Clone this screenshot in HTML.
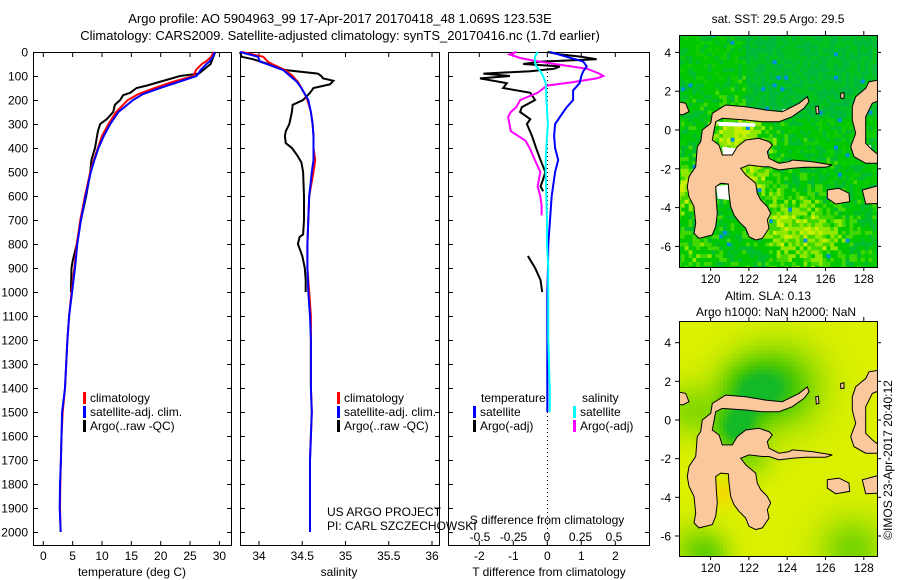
<!DOCTYPE html>
<html><head><meta charset="utf-8"><style>
html,body{margin:0;padding:0;background:#fff;}
svg{display:block;font-family:"Liberation Sans",sans-serif;}
</style></head><body>
<svg id="fig" width="900" height="580" viewBox="0 0 900 580" xmlns="http://www.w3.org/2000/svg">
<rect width="900" height="580" fill="#fff"/>
<text x="340" y="23" font-size="13" text-anchor="middle">Argo profile: AO 5904963_99 17-Apr-2017 20170418_48 1.069S 123.53E</text>
<text x="340" y="40" font-size="13" text-anchor="middle">Climatology: CARS2009. Satellite-adjusted climatology: synTS_20170416.nc (1.7d earlier)</text>
<g id="g"></g>
</svg>
<script>
// ---- data ----
const depthClim = [0,20,40,50,75,100,125,150,175,200,250,300,350,400,450,500,600,700,800,900,1000,1100,1200,1300,1400,1500,1600,1700,1800,1900,2000];
const tempClim  = [29.0,28.6,27.7,27.0,26.0,25.6,22.0,19.0,16.2,14.4,12.4,11.1,10.0,9.3,8.6,8.0,7.1,6.3,5.7,5.3,4.8,4.4,4.1,3.9,3.7,3.3,3.1,3.0,2.9,2.85,2.95];
const tempSat   = [29.2,28.9,28.3,27.8,26.8,26.1,23.0,19.9,17.0,15.3,12.8,11.4,10.3,9.4,8.7,8.1,7.2,6.4,5.8,5.4,4.9,4.4,4.1,3.9,3.7,3.2,3.1,3.0,2.85,2.8,2.96];
const salClim   = [33.8,34.05,34.10,34.15,34.30,34.39,34.45,34.49,34.53,34.56,34.60,34.62,34.63,34.63,34.65,34.63,34.58,34.57,34.56,34.56,34.58,34.60,34.60,34.60,34.60,34.61,34.60,34.59,34.59,34.59,34.59];
const salSat    = [33.78,33.99,34.01,34.09,34.28,34.36,34.44,34.49,34.53,34.57,34.60,34.62,34.63,34.63,34.63,34.61,34.58,34.57,34.56,34.56,34.57,34.59,34.60,34.60,34.60,34.61,34.60,34.59,34.59,34.59,34.59];
const depthArgoT = [0,30,50,90,100,140,150,170,180,200,220,250,280,300,330,400,450,500,600,700,800,870,900,1000];
const tempArgo   = [29.3,28.8,28.5,26.5,23.3,17.6,15.9,14.8,13.6,13.1,12.2,11.9,10.8,9.7,9.3,8.8,8.2,8.0,7.3,6.4,5.7,5.0,4.8,4.7];
const depthArgoS = [0,20,30,60,75,90,100,110,120,135,150,170,200,220,250,300,330,350,380,400,430,460,500,600,700,760,770,800,850,900,950,1000];
const salArgo    = [33.78,33.8,33.93,34.2,34.3,34.68,34.72,34.74,34.86,34.82,34.63,34.59,34.51,34.39,34.38,34.35,34.31,34.30,34.31,34.38,34.44,34.49,34.51,34.52,34.52,34.51,34.47,34.45,34.50,34.53,34.54,34.54];
const depthDiffT = [0,10,20,30,40,50,60,70,80,90,100,110,130,150,170,200,230,250,280,300,350,400,450,500,530,560,580];
const diffTArgo  = [0.0,0.37,1.0,1.45,-0.2,-0.71,0.37,0.2,-0.5,-1.88,-1.1,-1.98,-1.19,-1.3,-0.5,-0.36,-0.75,-0.8,-0.5,-0.6,-0.45,-0.33,-0.2,-0.06,-0.12,-0.2,-0.12];
const depthDiffT2 = [850,900,950,1000];
const diffTArgo2  = [-0.57,-0.36,-0.2,-0.15];
const depthDiffSat = [0,20,40,60,80,100,130,160,200,230,250,300,350,400,450,500,600,700,800,900,1000,1200,1400,1500];
const diffTSat     = [0.08,0.57,1.06,1.16,1.06,1.0,0.95,0.76,0.76,0.57,0.47,0.23,0.2,0.23,0.32,0.23,0.13,0.08,0.03,0.02,0.0,0.0,0.0,0.0];
const diffSSat     = [-0.07,-0.09,-0.09,-0.08,-0.05,-0.03,-0.01,-0.005,-0.005,0.0,0.0,0.007,0.0,-0.005,-0.01,-0.01,-0.005,0.0,0.0,0.01,0.01,0.01,0.02,0.02];
const depthDiffS = [0,10,25,35,45,55,70,90,100,110,125,140,170,200,230,250,270,300,330,370,400,450,500,560,600,640,680];
const diffSArgo  = [-0.23,-0.28,-0.2,-0.11,0.0,0.12,0.3,0.39,0.42,0.37,0.2,0.0,-0.07,-0.2,-0.23,-0.27,-0.29,-0.28,-0.27,-0.16,-0.13,-0.09,-0.05,-0.07,-0.05,-0.04,-0.04];
const depthTicks = [0,100,200,300,400,500,600,700,800,900,1000,1100,1200,1300,1400,1500,1600,1700,1800,1900,2000];
const tempTicks = [0,5,10,15,20,25,30];
const salTicks = [34,34.5,35,35.5,36];
const tdTicks = [-2,-1,0,1,2];
const sdTicks = [-0.5,-0.25,0,0.25,0.5];

// ---- axes ----
const TOP=52, BOT=545;
const yD = d => 52 + d*0.24;
const xT = t => 43.3 + t*5.87;
const xS = s => 259 + (s-34)*86.5;
const xdT = v => 547.3 + v*34;
const xdS = v => 547 + v*134;
const NS="http://www.w3.org/2000/svg";
const G=document.getElementById('g');
function el(tag, attrs, txt){const e=document.createElementNS(NS,tag);for(const k in attrs)e.setAttribute(k,attrs[k]);if(txt!==undefined)e.textContent=txt;G.appendChild(e);return e;}
function line(x1,y1,x2,y2,c,w){return el('line',{x1,y1,x2,y2,stroke:c||'#000','stroke-width':w||1});}
function poly(xs,ys,c,w){return el('polyline',{points:xs.map((x,i)=>x.toFixed(1)+','+ys[i].toFixed(1)).join(' '),fill:'none',stroke:c,'stroke-width':w||2,'stroke-linejoin':'miter'});}

const panels=[[33,231],[240,439],[448,649]];
panels.forEach((p,i)=>{
  const r=el('rect',{x:p[0]+0.5,y:TOP+0.5,width:p[1]-p[0],height:BOT-TOP,fill:'none',stroke:'#000','stroke-width':1});
  
  
  depthTicks.forEach(d=>{const y=yD(d)+0.5;line(p[0],y,p[0]+5,y);line(p[1]-4,y,p[1]+1,y);});
});
depthTicks.forEach(d=>{
  const t=el('text',{x:28,y:yD(d)+4.5,'font-size':12,'text-anchor':'end'},String(d));
  
  
});
tempTicks.forEach(v=>{const x=xT(v);line(x,TOP,x,TOP+5);line(x,BOT-4,x,BOT+1);
  const t=el('text',{x:x,y:560,'font-size':12,'text-anchor':'middle'},String(v));
  
  });
salTicks.forEach(v=>{const x=xS(v);line(x,TOP,x,TOP+5);line(x,BOT-4,x,BOT+1);
  const t=el('text',{x:x,y:560,'font-size':12,'text-anchor':'middle'},String(v));
  
  });
tdTicks.forEach(v=>{const x=xdT(v);line(x,TOP,x,TOP+5);line(x,BOT-4,x,BOT+1);
  const t=el('text',{x:x,y:560,'font-size':12,'text-anchor':'middle'},String(v));
  
  });
sdTicks.forEach(v=>{const x=xdS(v);
  const t=el('text',{x:x,y:541,'font-size':12,'text-anchor':'middle'},String(v));
  
  });
[[132,'temperature (deg C)','temperature-axis-title'],[339,'salinity','salinity-axis-title'],[549,'T difference from climatology','t-diff-axis-title']].forEach(a=>{
  const t=el('text',{x:a[0],y:576,'font-size':12,'text-anchor':'middle'},a[1]);
  
  });
{const t=el('text',{x:547,y:524,'font-size':12,'text-anchor':'middle'},'S difference from climatology');

}
{const l=el('line',{x1:547.5,y1:TOP,x2:547.5,y2:BOT,stroke:'#000','stroke-width':1,'stroke-dasharray':'1,3'});

}

// ---- series ----
function series(name,xs,ys,c,w){const p=poly(xs,ys,c,w);}
series('temp-argo',tempArgo.map(xT),depthArgoT.map(yD),'#000',2);
series('temp-climatology',tempClim.map(xT),depthClim.map(yD),'#f00',2);
series('temp-satellite-adj',tempSat.map(xT),depthClim.map(yD),'#00f',2);
series('sal-argo',salArgo.map(xS),depthArgoS.map(yD),'#000',2);
series('sal-climatology',salClim.map(xS),depthClim.map(yD),'#f00',2);
series('sal-satellite-adj',salSat.map(xS),depthClim.map(yD),'#00f',2);
series('tdiff-argo',diffTArgo.map(xdT),depthDiffT.map(yD),'#000',2);
series('tdiff-argo-deep',diffTArgo2.map(xdT),depthDiffT2.map(yD),'#000',2);
series('sdiff-argo',diffSArgo.map(xdS),depthDiffS.map(yD),'#f0f',2);
series('tdiff-satellite',diffTSat.map(xdT),depthDiffSat.map(yD),'#00f',2);
series('sdiff-satellite',diffSSat.map(xdS),depthDiffSat.map(yD),'#0ff',2);

// ---- legends ----
function leg(x,y,c,txt,name){const r=el('rect',{x:x,y:y-10,width:3,height:12,fill:c});
  const t=el('text',{x:x+7,y:y,'font-size':12},txt);}
leg(83,402,'#f00','climatology','legend-climatology');
leg(83,416,'#00f','satellite-adj. clim.','legend-satellite-adj');
leg(83,430,'#000','Argo(..raw -QC)','legend-argo');
leg(337,402,'#f00','climatology','legend-climatology-sal');
leg(337,416,'#00f','satellite-adj. clim.','legend-satellite-adj-sal');
leg(337,430,'#000','Argo(..raw -QC)','legend-argo-sal');
{const t=el('text',{x:481,y:402,'font-size':12},'temperature');}
{const t=el('text',{x:582,y:402,'font-size':12},'salinity');}
leg(473,416,'#00f','satellite','legend-t-satellite');
leg(473,430,'#000','Argo(-adj)','legend-t-argo');
leg(573,416,'#0ff','satellite','legend-s-satellite');
leg(573,430,'#f0f','Argo(-adj)','legend-s-argo');
{const t=el('text',{x:327,y:516,'font-size':12},'US ARGO PROJECT');}
{const t=el('text',{x:327,y:530,'font-size':12},'PI: CARL SZCZECHOWSKI');}

// ---- maps ----
const LON0=118.35, LON1=128.7, MX0=679, MX1=877;
const lonX = l => MX0 + (l-LON0)*19.15;
const zLon = zx => LON0 + zx/57.45;
const zLat = zy => (50 - zy/3)/19.4;
const landZ = [
 [[100,100],[140,75],[200,80],[260,90],[310,95],[360,70],[385,50],[390,65],[375,85],[340,110],[300,125],[250,125],[200,120],[130,115],[110,125],[100,180],[120,195],[130,225],[160,225],[175,200],[200,180],[240,175],[270,185],[280,195],[265,215],[270,235],[300,250],[330,245],[340,240],[400,245],[460,255],[440,262],[380,262],[340,265],[300,270],[270,260],[250,260],[210,255],[185,265],
  [200,285],[230,310],[235,340],[245,360],[265,380],[275,400],[265,420],[270,445],[250,475],[230,480],[210,470],
  [200,445],[180,425],[165,405],[155,380],[150,340],[148,312],[125,310],[110,320],
  [112,360],[115,400],[110,440],[100,465],[60,475],[45,460],[50,430],[45,380],[30,350],[25,320],[30,290],[50,260],[55,200],[65,185],[70,150],[95,130]],
 [[445,330],[480,325],[510,340],[512,365],[470,372],[445,355]],
 [[530,50],[560,25],[570,5],[600,0],[605,60],[580,70],[560,110],[560,190],[580,210],[605,230],[605,250],[560,250],[525,230],[515,200],[530,160],[520,120],[520,80]],
 [[550,330],[605,315],[605,370],[560,372]],
 [[-5,65],[20,70],[30,95],[10,105],[-5,100]],
 [[410,80],[418,78],[420,100],[412,102]],
 [[485,40],[495,38],[495,55],[485,55]]
];
const cloudZ = [
 [[112,125],[230,130],[228,140],[120,138]],
 [[130,200],[170,205],[172,228],[132,226]],
 [[112,318],[146,314],[150,360],[116,356]],
 [[530,200],[575,195],[580,225],[535,225]],
 [[310,88],[335,86],[334,96],[312,96]]
];
function hash(i,j){let h=(i*374761393+j*668265263)|0;h=(h^(h>>>13))*1274126177|0;return ((h^(h>>>16))>>>0)/4294967296;}
function blob(zx,zy,cx,cy,r){const dx=(zx-cx)/r,dy=(zy-cy)/r;return Math.exp(-(dx*dx+dy*dy));}
function drawMap(id,top,bot,latY,colorFn,clouds){
  const cid='clip'+id;
  const cp=el('clipPath',{id:cid});G.removeChild(cp);
  const cr=document.createElementNS(NS,'rect');cr.setAttribute('x',MX0);cr.setAttribute('y',top);cr.setAttribute('width',MX1-MX0);cr.setAttribute('height',bot-top);cp.appendChild(cr);G.appendChild(cp);
  const g=el('g',{'clip-path':'url(#'+cid+')'});
  
  
  const step=0.2;
  for(let lo=LON0-0.1, i=0; lo<LON1; lo+=step, i++){
    for(let la=5.4, j=0; la>-7.4; la-=step, j++){
      const r=document.createElementNS(NS,'rect');
      const x=lonX(lo), y=latY(la);
      const zx=(lo+step/2-LON0)*57.45, zy=(50-(la-step/2)*19.4)*3;
      r.setAttribute('x',x.toFixed(1));r.setAttribute('y',y.toFixed(1));
      r.setAttribute('width',(step*19.15+0.6).toFixed(1));r.setAttribute('height',(step*19.4+0.6).toFixed(1));
      r.setAttribute('fill',colorFn(zx,zy,i,j));g.appendChild(r);
    }
  }
  const toPts=pg=>pg.map(q=>lonX(zLon(q[0])).toFixed(1)+','+latY(zLat(q[1])).toFixed(1)).join(' ');
  if(clouds) cloudZ.forEach(pg=>{const p=document.createElementNS(NS,'polygon');p.setAttribute('points',toPts(pg));p.setAttribute('fill','#fff');g.appendChild(p);});
  landZ.forEach(pg=>{const p=document.createElementNS(NS,'polygon');
    p.setAttribute('points',toPts(pg));
    p.setAttribute('fill','#fac89b');p.setAttribute('stroke','#000');p.setAttribute('stroke-width','1');g.appendChild(p);});
  const fr=el('rect',{x:MX0+0.5,y:top+0.5,width:MX1-MX0,height:bot-top,fill:'none',stroke:'#000'});
  
  
  [4,2,0,-2,-4,-6].forEach(l=>{const y=latY(l);line(MX0-4,y,MX0,y);line(MX1,y,MX1+4,y);
    const t=el('text',{x:MX0-8,y:y+4.5,'font-size':12,'text-anchor':'end'},String(l));
    
    });
  [120,122,124,126,128].forEach(l=>{const x=lonX(l);line(x,top-4,x,top);line(x,bot,x,bot+4);
    const t=el('text',{x:x,y:bot+16,'font-size':12,'text-anchor':'middle'},String(l));
    
    });
}
drawMap('sst-map',35,267,l=>130-l*19.4,(zx,zy,i,j)=>{
  const h=hash(i,j), h2=hash(j+7,i+3);
  let y = 0.9*blob(zx,zy,180,170,90) + 0.7*blob(zx,zy,20,330,70) + 0.6*blob(zx,zy,400,470,120)
        + 0.4*blob(zx,zy,280,420,80) + 0.5*blob(zx,zy,230,290,60) + 0.3*blob(zx,zy,60,520,80);
  y += (h-0.5)*0.6;
  if(h2<0.01) return '#0090e0';
  if(zy<120 && zx>200) return h<0.5?'#00b93c':'#00c31e';
  if(y>0.75) return '#c8f000';
  if(y>0.5) return '#90e800';
  if(y>0.3) return '#40d800';
  return h<0.5?'#00c800':(h<0.8?'#00bd30':'#10cc00');
}, true);
drawMap('sla-map',321,556,l=>420-l*19.33,(zx,zy,i,j)=>{
  let g = 0.8*blob(zx,zy,300,50,120) + 0.6*blob(zx,zy,200,60,90) + 0.9*blob(zx,zy,170,180,70)
        + 0.5*blob(zx,zy,520,540,100) + 0.4*blob(zx,zy,30,120,80) + 0.4*blob(zx,zy,50,540,80)
        + 0.3*blob(zx,zy,220,270,60) + 0.3*blob(zx,zy,100,560,60);
  const o = 0.6*blob(zx,zy,130,370,40);
  const t=Math.max(0,Math.min(1,1-g));
  const r=Math.round(20+t*200+o*40), gg=Math.round(185+t*55-o*40);
  return 'rgb('+Math.min(255,r)+','+gg+','+(t<0.3?Math.round(40*(0.3-t)/0.3):0)+')';
}, false);
{const t=el('text',{x:778,y:23,'font-size':12,'text-anchor':'middle'},'sat. SST: 29.5 Argo: 29.5');}
{const t=el('text',{x:768,y:300,'font-size':12,'text-anchor':'middle'},'Altim. SLA: 0.13');}
{const t=el('text',{x:776,y:316,'font-size':12,'text-anchor':'middle'},'Argo h1000: NaN h2000: NaN');}
{const t=el('text',{x:0,y:0,'font-size':12,'text-anchor':'middle',transform:'translate(892,460) rotate(-90)'},'©IMOS 23-Apr-2017 20:40:12');}
</script>
</body></html>
